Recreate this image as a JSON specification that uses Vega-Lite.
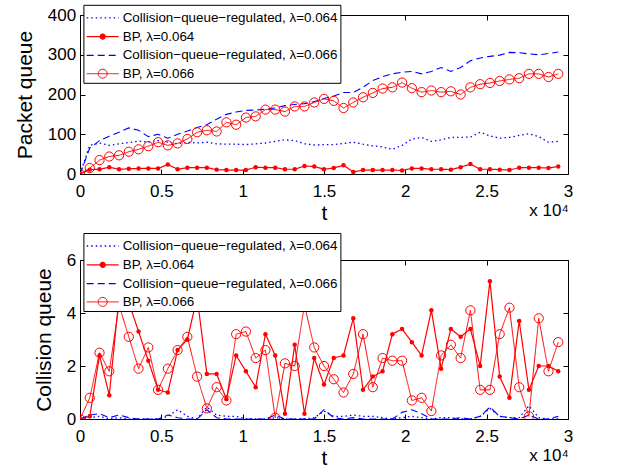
{
  "$schema": "https://vega.github.io/schema/vega-lite/v6.json",
  "padding": {"left": 13, "top": 3, "right": 0, "bottom": 0},
  "background": "white",
  "spacing": 86,
  "bounds": "flush",
  "datasets": {
    "packet": [
      {"t":0,"cqr064":0,"bp064":0,"cqr066":0,"bp066":0},
      {"t":600,"cqr064":72,"bp064":11,"cqr066":65,"bp066":15},
      {"t":1200,"cqr064":78,"bp064":12,"cqr066":84,"bp066":35},
      {"t":1800,"cqr064":72,"bp064":17,"cqr066":95,"bp066":44},
      {"t":2400,"cqr064":76,"bp064":12,"cqr066":105,"bp066":47},
      {"t":3000,"cqr064":79,"bp064":13,"cqr066":116,"bp066":56},
      {"t":3600,"cqr064":83,"bp064":14,"cqr066":110,"bp066":62},
      {"t":4200,"cqr064":80,"bp064":14,"cqr066":94,"bp066":70},
      {"t":4800,"cqr064":84,"bp064":14,"cqr066":100,"bp066":80},
      {"t":5400,"cqr064":80,"bp064":24,"cqr066":90,"bp066":72},
      {"t":6000,"cqr064":76,"bp064":12,"cqr066":100,"bp066":77},
      {"t":6600,"cqr064":80,"bp064":16,"cqr066":108,"bp066":88},
      {"t":7200,"cqr064":78,"bp064":16,"cqr066":117,"bp066":105},
      {"t":7800,"cqr064":80,"bp064":16,"cqr066":124,"bp066":110},
      {"t":8400,"cqr064":76,"bp064":11,"cqr066":138,"bp066":107},
      {"t":9000,"cqr064":75,"bp064":10,"cqr066":150,"bp066":130},
      {"t":9600,"cqr064":75,"bp064":10,"cqr066":156,"bp066":124},
      {"t":10200,"cqr064":74,"bp064":10,"cqr066":160,"bp066":142},
      {"t":10800,"cqr064":76,"bp064":17,"cqr066":161,"bp066":145},
      {"t":11400,"cqr064":78,"bp064":16,"cqr066":163,"bp066":162},
      {"t":12000,"cqr064":82,"bp064":16,"cqr066":166,"bp066":162},
      {"t":12600,"cqr064":86,"bp064":12,"cqr066":172,"bp066":157},
      {"t":13200,"cqr064":84,"bp064":12,"cqr066":175,"bp066":170},
      {"t":13800,"cqr064":76,"bp064":20,"cqr066":177,"bp066":170},
      {"t":14400,"cqr064":73,"bp064":19,"cqr066":182,"bp066":180},
      {"t":15000,"cqr064":74,"bp064":12,"cqr066":190,"bp066":189},
      {"t":15600,"cqr064":74,"bp064":15,"cqr066":196,"bp066":184},
      {"t":16200,"cqr064":77,"bp064":22,"cqr066":205,"bp066":166},
      {"t":16800,"cqr064":80,"bp064":5,"cqr066":205,"bp066":180},
      {"t":17400,"cqr064":75,"bp064":10,"cqr066":218,"bp066":193},
      {"t":18000,"cqr064":71,"bp064":10,"cqr066":235,"bp066":204},
      {"t":18600,"cqr064":68,"bp064":10,"cqr066":245,"bp066":215},
      {"t":19200,"cqr064":62,"bp064":10,"cqr066":252,"bp066":218},
      {"t":19800,"cqr064":72,"bp064":9,"cqr066":256,"bp066":230},
      {"t":20400,"cqr064":88,"bp064":14,"cqr066":258,"bp066":216},
      {"t":21000,"cqr064":92,"bp064":14,"cqr066":252,"bp066":206},
      {"t":21600,"cqr064":82,"bp064":12,"cqr066":258,"bp066":210},
      {"t":22200,"cqr064":86,"bp064":12,"cqr066":268,"bp066":206},
      {"t":22800,"cqr064":92,"bp064":11,"cqr066":258,"bp066":208},
      {"t":23400,"cqr064":92,"bp064":17,"cqr066":268,"bp066":200},
      {"t":24000,"cqr064":93,"bp064":25,"cqr066":285,"bp066":218},
      {"t":24600,"cqr064":105,"bp064":12,"cqr066":292,"bp066":226},
      {"t":25200,"cqr064":96,"bp064":12,"cqr066":296,"bp066":229},
      {"t":25800,"cqr064":90,"bp064":11,"cqr066":299,"bp066":234},
      {"t":26400,"cqr064":92,"bp064":10,"cqr066":306,"bp066":238},
      {"t":27000,"cqr064":97,"bp064":16,"cqr066":305,"bp066":241},
      {"t":27600,"cqr064":101,"bp064":16,"cqr066":302,"bp066":252},
      {"t":28200,"cqr064":94,"bp064":16,"cqr066":300,"bp066":252},
      {"t":28800,"cqr064":80,"bp064":15,"cqr066":303,"bp066":244},
      {"t":29400,"cqr064":82,"bp064":19,"cqr066":307,"bp066":252}
    ],
    "collision": [
      {"t":0,"cqr064":0,"bp064":0,"cqr066":0,"bp066":0},
      {"t":600,"cqr064":0.05,"bp064":0.1,"cqr066":0.15,"bp066":0.8},
      {"t":1200,"cqr064":0.1,"bp064":2.4,"cqr066":0.2,"bp066":2.5},
      {"t":1800,"cqr064":0,"bp064":0.9,"cqr066":0.05,"bp066":1.8},
      {"t":2400,"cqr064":0.05,"bp064":4.6,"cqr066":0.15,"bp066":4.3},
      {"t":3000,"cqr064":0,"bp064":4.4,"cqr066":0.05,"bp066":3.1},
      {"t":3600,"cqr064":0,"bp064":3.3,"cqr066":0,"bp066":1.9},
      {"t":4200,"cqr064":0,"bp064":2.2,"cqr066":0,"bp066":2.7},
      {"t":4800,"cqr064":0,"bp064":1.1,"cqr066":0,"bp066":1.1},
      {"t":5400,"cqr064":0.1,"bp064":1.0,"cqr066":0.15,"bp066":1.9},
      {"t":6000,"cqr064":0.35,"bp064":2.6,"cqr066":0.05,"bp066":2.6},
      {"t":6600,"cqr064":0.1,"bp064":3.0,"cqr066":0,"bp066":3.1},
      {"t":7200,"cqr064":0,"bp064":4.6,"cqr066":0,"bp066":1.6},
      {"t":7800,"cqr064":0.45,"bp064":1.7,"cqr066":0.35,"bp066":0.4},
      {"t":8400,"cqr064":0.15,"bp064":1.7,"cqr066":0.05,"bp066":1.2},
      {"t":9000,"cqr064":0.1,"bp064":0.75,"cqr066":0,"bp066":0.7},
      {"t":9600,"cqr064":0.1,"bp064":2.4,"cqr066":0,"bp066":3.2},
      {"t":10200,"cqr064":0,"bp064":1.8,"cqr066":0,"bp066":3.3},
      {"t":10800,"cqr064":0,"bp064":1.2,"cqr066":0,"bp066":2.3},
      {"t":11400,"cqr064":0,"bp064":3.2,"cqr066":0,"bp066":2.6},
      {"t":12000,"cqr064":0.05,"bp064":2.4,"cqr066":0.15,"bp066":0.05},
      {"t":12600,"cqr064":0,"bp064":0.2,"cqr066":0,"bp066":2.1},
      {"t":13200,"cqr064":0,"bp064":2.8,"cqr066":0,"bp066":2.0},
      {"t":13800,"cqr064":0,"bp064":0.2,"cqr066":0,"bp066":4.3},
      {"t":14400,"cqr064":0.05,"bp064":2.3,"cqr066":0,"bp066":2.7},
      {"t":15000,"cqr064":0.3,"bp064":1.3,"cqr066":0.35,"bp066":2.0},
      {"t":15600,"cqr064":0.1,"bp064":2.3,"cqr066":0.05,"bp066":1.5},
      {"t":16200,"cqr064":0.1,"bp064":2.4,"cqr066":0,"bp066":1.0},
      {"t":16800,"cqr064":0.15,"bp064":3.8,"cqr066":0.05,"bp066":1.7},
      {"t":17400,"cqr064":0.1,"bp064":1.1,"cqr066":0,"bp066":3.2},
      {"t":18000,"cqr064":0.1,"bp064":1.6,"cqr066":0,"bp066":1.2},
      {"t":18600,"cqr064":0.05,"bp064":1.8,"cqr066":0,"bp066":2.3},
      {"t":19200,"cqr064":0,"bp064":3.2,"cqr066":0,"bp066":2.2},
      {"t":19800,"cqr064":0.05,"bp064":3.4,"cqr066":0.25,"bp066":2.2},
      {"t":20400,"cqr064":0.1,"bp064":2.9,"cqr066":0.35,"bp066":0.7},
      {"t":21000,"cqr064":0.05,"bp064":2.4,"cqr066":0.2,"bp066":0.8},
      {"t":21600,"cqr064":0,"bp064":4.1,"cqr066":0,"bp066":0.3},
      {"t":22200,"cqr064":0.05,"bp064":1.9,"cqr066":0,"bp066":2.4},
      {"t":22800,"cqr064":0.05,"bp064":3.4,"cqr066":0,"bp066":2.8},
      {"t":23400,"cqr064":0,"bp064":3.1,"cqr066":0.05,"bp066":2.3},
      {"t":24000,"cqr064":0,"bp064":3.4,"cqr066":0,"bp066":4.1},
      {"t":24600,"cqr064":0.1,"bp064":2.0,"cqr066":0.1,"bp066":1.1},
      {"t":25200,"cqr064":0.4,"bp064":5.2,"cqr066":0.45,"bp066":1.1},
      {"t":25800,"cqr064":0.1,"bp064":1.6,"cqr066":0.1,"bp066":3.2},
      {"t":26400,"cqr064":0.05,"bp064":0.8,"cqr066":0.05,"bp066":4.2},
      {"t":27000,"cqr064":0.05,"bp064":3.7,"cqr066":0,"bp066":1.2},
      {"t":27600,"cqr064":0.5,"bp064":1.1,"cqr066":0.15,"bp066":0.1},
      {"t":28200,"cqr064":0.05,"bp064":2.0,"cqr066":0,"bp066":3.8},
      {"t":28800,"cqr064":0,"bp064":2.0,"cqr066":0,"bp066":1.8},
      {"t":29400,"cqr064":0,"bp064":1.8,"cqr066":0.1,"bp066":2.9}
    ]
  },
  "vconcat": [
    {
      "width": 488,
      "height": 159,
      "data": {"name": "packet"},
      "transform": [{"fold": ["cqr064", "bp064", "cqr066", "bp066"], "as": ["series", "v"]}],
      "title": {"text": "x 10⁴", "orient": "bottom", "anchor": "end", "fontSize": 17, "fontWeight": "normal", "font": "Liberation Sans", "color": "black", "offset": -20, "dx": -4},
      "layer": [
        {
          "mark": {"type": "line", "clip": true},
          "encoding": {
            "x": {"field": "t", "type": "quantitative", "scale": {"domain": [0, 30000], "nice": false},
                  "axis": {"orient": "bottom", "values": [0,5000,10000,15000,20000,25000,30000], "labelExpr": "datum.value/10000 + ''", "title": "t", "labelPadding": 14, "titlePadding": 3}},
            "y": {"field": "v", "type": "quantitative", "scale": {"domain": [0, 400], "nice": false},
                  "axis": {"orient": "left", "values": [0,100,200,300,400], "title": "Packet queue", "labelPadding": 9.3, "titlePadding": 12}},
            "color": {"field": "series", "type": "nominal",
                      "scale": {"domain": ["cqr064","bp064","cqr066","bp066"], "range": ["#0000ff","#ff0000","#0000ff","#ff0000"]},
                      "legend": {"orient": "none", "legendX": 3.4, "legendY": -10.2, "title": null,
                                 "fillColor": "white", "strokeColor": "black", "padding": 2, "symbolSize": 400, "symbolOffset": 6.3, "labelOffset": 9, "rowPadding": 0.8,
                                 "labelFont": "Liberation Sans", "labelFontSize": 13.4, "labelColor": "black", "labelLimit": 400,
                                 "labelExpr": "datum.value=='cqr064' ? 'Collision−queue−regulated, λ=0.064' : datum.value=='bp064' ? 'BP, λ=0.064' : datum.value=='cqr066' ? 'Collision−queue−regulated, λ=0.066' : 'BP, λ=0.066'",
                                 "encode": {"symbols": {"update": {
                                   "shape": {"signal": "datum.value=='bp064' ? 'M-1.6,0L1.6,0M0.25,0A0.25,0.25 0 1,1 -0.25,0A0.25,0.25 0 1,1 0.25,0' : datum.value=='bp066' ? 'M-1.6,0L1.6,0M0.45,0A0.45,0.45 0 1,1 -0.45,0A0.45,0.45 0 1,1 0.45,0' : 'M-1.6,0L1.6,0'"},
                                   "strokeDash": {"signal": "datum.value=='cqr064' ? [1.5,3] : datum.value=='cqr066' ? [7,4] : [1,0]"},
                                   "fill": {"signal": "datum.value=='bp064' ? '#ff0000' : 'transparent'"},
                                   "strokeWidth": {"signal": "datum.value=='cqr066' ? 2 : datum.value=='cqr064' ? 1.3 : 1"},
                                   "opacity": {"value": 1}
                                 }}}}},
            "strokeDash": {"field": "series", "type": "nominal", "scale": {"domain": ["cqr064","bp064","cqr066","bp066"], "range": [[1.5,3],[1,0],[7,4],[1,0]]}, "legend": null},
            "strokeWidth": {"field": "series", "type": "nominal", "scale": {"domain": ["cqr064","bp064","cqr066","bp066"], "range": [1.3,1,2,1]}, "legend": null}
          }
        },
        {
          "transform": [{"filter": "datum.series == 'bp064'"}],
          "mark": {"type": "point", "shape": "circle", "filled": true, "color": "#ff0000", "size": 20, "opacity": 1, "clip": true},
          "encoding": {
            "x": {"field": "t", "type": "quantitative", "axis": {"orient": "top", "labels": false, "title": null, "values": [0,5000,10000,15000,20000,25000,30000]}},
            "y": {"field": "v", "type": "quantitative", "axis": {"orient": "right", "labels": false, "title": null, "values": [0,100,200,300,400]}}
          }
        },
        {
          "transform": [{"filter": "datum.series == 'bp066'"}],
          "mark": {"type": "point", "shape": "circle", "filled": false, "stroke": "#ff0000", "strokeWidth": 1, "size": 85, "opacity": 1, "clip": true},
          "encoding": {
            "x": {"field": "t", "type": "quantitative", "axis": null},
            "y": {"field": "v", "type": "quantitative", "axis": null}
          }
        }
      ],
      "resolve": {"axis": {"x": "independent", "y": "independent"}}
    },
    {
      "width": 488,
      "height": 159,
      "data": {"name": "collision"},
      "transform": [{"fold": ["cqr064", "bp064", "cqr066", "bp066"], "as": ["series", "v"]}],
      "title": {"text": "x 10⁴", "orient": "bottom", "anchor": "end", "fontSize": 17, "fontWeight": "normal", "font": "Liberation Sans", "color": "black", "offset": -20, "dx": -4},
      "layer": [
        {
          "mark": {"type": "line", "clip": true},
          "encoding": {
            "x": {"field": "t", "type": "quantitative", "scale": {"domain": [0, 30000], "nice": false},
                  "axis": {"orient": "bottom", "values": [0,5000,10000,15000,20000,25000,30000], "labelExpr": "datum.value/10000 + ''", "title": "t", "labelPadding": 14, "titlePadding": 3}},
            "y": {"field": "v", "type": "quantitative", "scale": {"domain": [0, 6], "nice": false},
                  "axis": {"orient": "left", "values": [0,2,4,6], "title": "Collision queue", "labelPadding": 9.3, "titlePadding": 12}},
            "color": {"field": "series", "type": "nominal",
                      "scale": {"domain": ["cqr064","bp064","cqr066","bp066"], "range": ["#0000ff","#ff0000","#0000ff","#ff0000"]},
                      "legend": {"orient": "none", "legendX": 3.4, "legendY": -27, "title": null,
                                 "fillColor": "white", "strokeColor": "black", "padding": 2, "symbolSize": 400, "symbolOffset": 6.3, "labelOffset": 9, "rowPadding": 0.8,
                                 "labelFont": "Liberation Sans", "labelFontSize": 13.4, "labelColor": "black", "labelLimit": 400,
                                 "labelExpr": "datum.value=='cqr064' ? 'Collision−queue−regulated, λ=0.064' : datum.value=='bp064' ? 'BP, λ=0.064' : datum.value=='cqr066' ? 'Collision−queue−regulated, λ=0.066' : 'BP, λ=0.066'",
                                 "encode": {"symbols": {"update": {
                                   "shape": {"signal": "datum.value=='bp064' ? 'M-1.6,0L1.6,0M0.25,0A0.25,0.25 0 1,1 -0.25,0A0.25,0.25 0 1,1 0.25,0' : datum.value=='bp066' ? 'M-1.6,0L1.6,0M0.45,0A0.45,0.45 0 1,1 -0.45,0A0.45,0.45 0 1,1 0.45,0' : 'M-1.6,0L1.6,0'"},
                                   "strokeDash": {"signal": "datum.value=='cqr064' ? [1.5,3] : datum.value=='cqr066' ? [7,4] : [1,0]"},
                                   "fill": {"signal": "datum.value=='bp064' ? '#ff0000' : 'transparent'"},
                                   "strokeWidth": {"signal": "datum.value=='cqr066' ? 2 : datum.value=='cqr064' ? 1.3 : 1"},
                                   "opacity": {"value": 1}
                                 }}}}},
            "strokeDash": {"field": "series", "type": "nominal", "scale": {"domain": ["cqr064","bp064","cqr066","bp066"], "range": [[1.5,3],[1,0],[7,4],[1,0]]}, "legend": null},
            "strokeWidth": {"field": "series", "type": "nominal", "scale": {"domain": ["cqr064","bp064","cqr066","bp066"], "range": [1.3,1,2,1]}, "legend": null}
          }
        },
        {
          "transform": [{"filter": "datum.series == 'bp064'"}],
          "mark": {"type": "point", "shape": "circle", "filled": true, "color": "#ff0000", "size": 20, "opacity": 1, "clip": true},
          "encoding": {
            "x": {"field": "t", "type": "quantitative", "axis": {"orient": "top", "labels": false, "title": null, "values": [0,5000,10000,15000,20000,25000,30000]}},
            "y": {"field": "v", "type": "quantitative", "axis": {"orient": "right", "labels": false, "title": null, "values": [0,2,4,6]}}
          }
        },
        {
          "transform": [{"filter": "datum.series == 'bp066'"}],
          "mark": {"type": "point", "shape": "circle", "filled": false, "stroke": "#ff0000", "strokeWidth": 1, "size": 85, "opacity": 1, "clip": true},
          "encoding": {
            "x": {"field": "t", "type": "quantitative", "axis": null},
            "y": {"field": "v", "type": "quantitative", "axis": null}
          }
        }
      ],
      "resolve": {"axis": {"x": "independent", "y": "independent"}}
    }
  ],
  "resolve": {"scale": {"x": "independent", "y": "independent", "color": "independent", "strokeDash": "independent", "strokeWidth": "independent"}, "legend": {"color": "independent"}},
  "config": {
    "view": {"stroke": "black", "strokeWidth": 1},
    "font": "Liberation Sans",
    "axis": {"labelFont": "Liberation Sans", "labelFontSize": 17, "labelColor": "black", "titleFont": "Liberation Sans", "titleFontSize": 21, "titleFontWeight": "normal", "titleColor": "black", "domain": false, "tickColor": "black", "tickSize": -5, "grid": false, "labelFlush": false, "labelOverlap": false}
  }
}
